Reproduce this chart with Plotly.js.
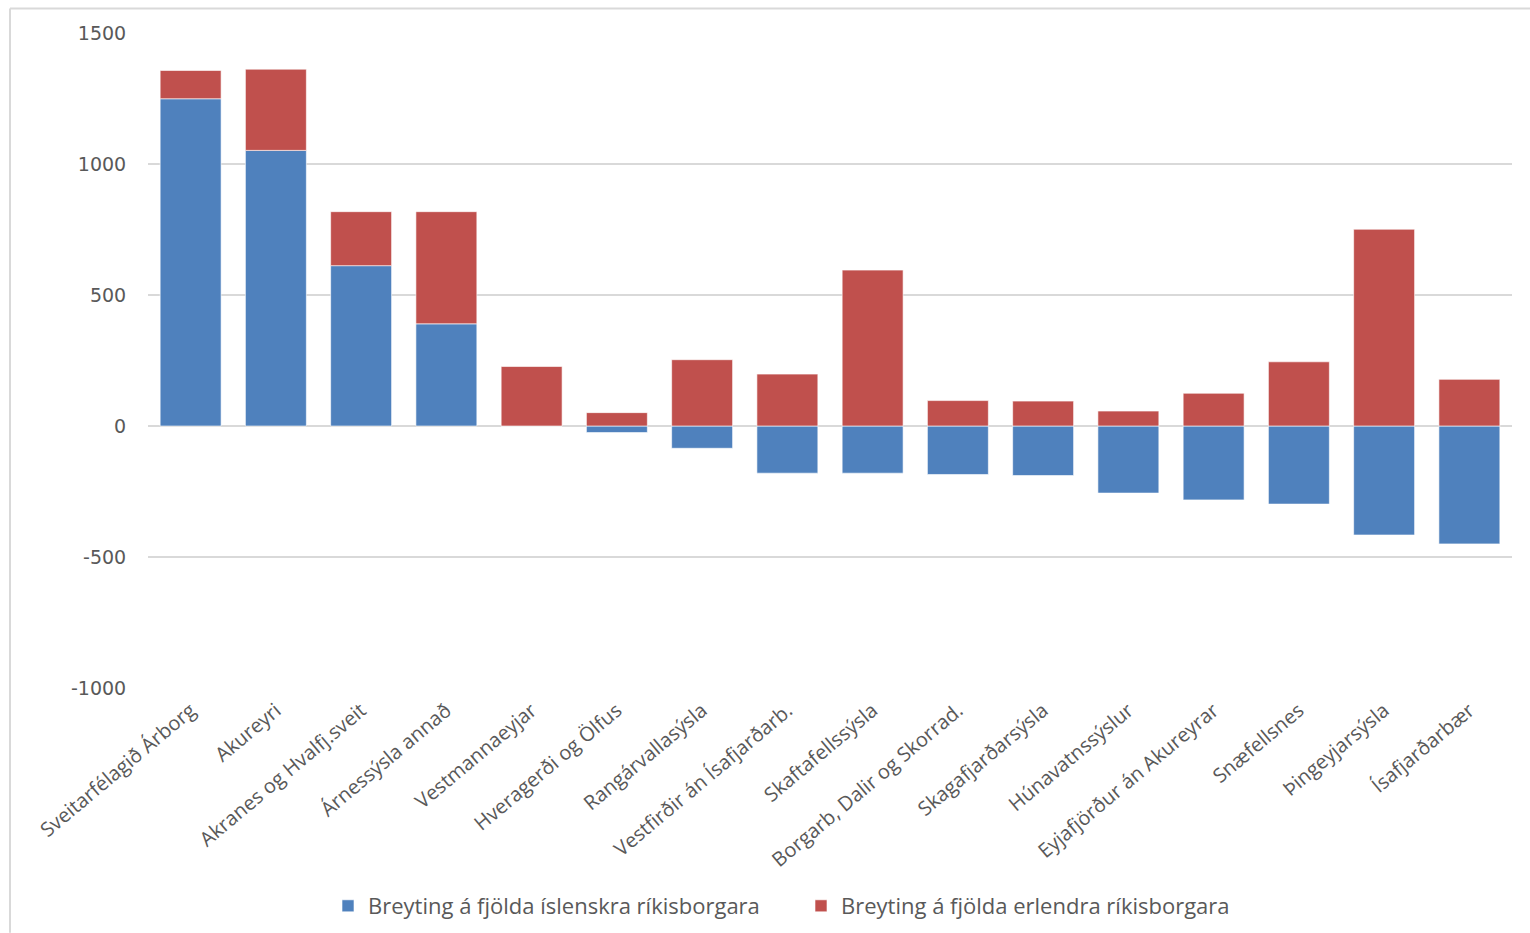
<!DOCTYPE html>
<html>
<head>
<meta charset="utf-8">
<script src="https://cdn.plot.ly/plotly-3.0.1.min.js"></script>
<style>html,body{margin:0;padding:0;background:#fff;}#chart{width:1530px;height:933px;}</style>
</head>
<body>
<div id="chart"></div>
<script>
const categories = [
  "Sveitarfélagið Árborg", "Akureyri", "Akranes og Hvalfj.sveit", "Árnessýsla annað",
  "Vestmannaeyjar", "Hveragerði og Ölfus", "Rangárvallasýsla", "Vestfirðir án Ísafjarðarb.",
  "Skaftafellssýsla", "Borgarb, Dalir og Skorrad.", "Skagafjarðarsýsla", "Húnavatnssýslur",
  "Eyjafjörður án Akureyrar", "Snæfellsnes", "Þingeyjarsýsla", "Ísafjarðarbær"
];
const icelandic = [1249, 1052, 612, 390, 0, -25, -85, -180, -180, -185, -189, -256, -282, -298, -416, -450];
const foreign   = [108, 310, 206, 428, 227, 51, 253, 198, 595, 97, 95, 57, 125, 245, 751, 178];
const seriesNames = ["Breyting á fjölda íslenskra ríkisborgara", "Breyting á fjölda erlendra ríkisborgara"];
const yTicks = [-1000, -500, 0, 500, 1000, 1500];

const W = 1530, H = 933, L = 148, R = 18, T = 32.5, B = 245;
const pw = W - L - R, ph = H - T - B;
const px = v => (v - L) / pw;
const py = v => (H - B - v) / ph;

const traces = [
  { type: 'bar', x: categories, y: icelandic, name: seriesNames[0],
    marker: { color: '#4f81bd', line: { color: 'rgba(255,255,255,0.6)', width: 1 } } },
  { type: 'bar', x: categories, y: foreign, name: seriesNames[1],
    marker: { color: '#c0504d', line: { color: 'rgba(255,255,255,0.6)', width: 1 } } }
];

const layout = {
  width: W, height: H,
  margin: { l: L, r: R, t: T, b: B },
  barmode: 'relative',
  bargap: 0.285,
  paper_bgcolor: '#ffffff', plot_bgcolor: '#ffffff',
  showlegend: true,
  legend: {
    orientation: 'h', xref: 'container', yref: 'container',
    x: 328 / W, xanchor: 'left', y: 1 - 906 / H, yanchor: 'middle',
    font: { family: 'Open Sans, sans-serif', size: 22, color: '#595959' },
    itemwidth: 30, entrywidth: 428, entrywidthmode: 'pixels', traceorder: 'normal'
  },
  xaxis: {
    type: 'category', tickangle: -40, showgrid: false, zeroline: false, showline: false,
    ticks: '', ticklabelstandoff: 6,
    tickfont: { family: 'Open Sans, sans-serif', size: 20, color: '#595959' },
    automargin: false
  },
  yaxis: {
    range: [-1000, 1500], tickvals: yTicks, ticktext: yTicks.map(String),
    showgrid: true, gridcolor: '#d9d9d9', gridwidth: 1.5,
    zeroline: true, zerolinecolor: '#d9d9d9', zerolinewidth: 1.5,
    showline: false, ticks: 'outside', ticklen: 17, tickcolor: 'rgba(0,0,0,0)',
    tickfont: { family: 'DejaVu Sans, Verdana, sans-serif', size: 19, color: '#595959' },
    automargin: false
  },
  shapes: [
    { type: 'line', xref: 'paper', yref: 'paper', x0: px(10), x1: px(1530), y0: py(8), y1: py(8),
      line: { color: '#d9d9d9', width: 2 } },
    { type: 'line', xref: 'paper', yref: 'paper', x0: px(10), x1: px(10), y0: py(8), y1: py(933),
      line: { color: '#d9d9d9', width: 2 } }
  ]
};

Plotly.newPlot('chart', traces, layout, { displayModeBar: false, staticPlot: true });
</script>
</body>
</html>
